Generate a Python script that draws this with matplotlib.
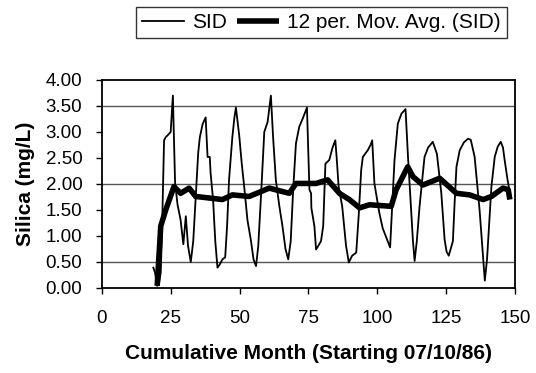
import numpy as np
import matplotlib
matplotlib.use("Agg")
from matplotlib import pyplot as plt

plt.rcParams['font.family'] = ['Liberation Sans', 'DejaVu Sans']

# SID series (month, silica mg/L)
sid_month = [18.7, 19.3, 20.1, 20.8, 21.4, 21.9, 22.6, 23.2, 23.8, 25.0, 25.8, 26.6, 27.5,
             28.6, 29.6, 30.5, 31.3, 32.3,
             33.2, 34.3, 35.0, 35.6, 36.6, 37.7, 38.4, 39.2, 39.5, 40.4, 41.2, 42.0, 42.8,
             43.8, 44.8,
             45.5, 46.2, 47.4, 48.2, 48.7, 49.3, 49.9, 50.8, 51.7, 52.9, 54.1, 55.1, 56.0,
             56.8,
             57.8, 59.0, 60.2, 61.4, 62.2, 63.2, 64.4, 65.6, 66.7, 67.7, 68.6, 69.5, 70.5,
             71.7, 72.9, 74.5,
             75.4, 76.0, 76.1, 77.2, 77.8, 78.5, 79.6, 80.4, 81.2, 82.6, 83.8, 84.8, 85.3,
             86.0, 87.3, 88.7, 89.7, 90.9, 92.4,
             93.3, 94.2, 94.8, 96.6, 97.6, 98.2, 99.0, 100.8, 102.0, 103.3, 104.7,
             105.4, 106.3, 107.5, 108.8, 110.3, 111.2, 112.4, 113.0, 113.6, 114.4, 115.4,
             117.2, 118.5, 120.2, 121.7, 123.3, 124.5, 125.2, 126.0, 127.5,
             128.1, 128.8, 130.0, 131.5, 133.0, 134.0, 135.4, 137.2, 138.3, 139.1, 139.9,
             141.5, 142.7, 143.8, 144.9, 145.7, 146.3, 147.3, 148.2]
sid_val = [0.39, 0.30, 0.04, 0.10, 0.30, 1.20, 2.84, 2.90, 2.93, 3.00, 3.70, 2.02, 1.60,
           1.31, 0.84, 1.38, 0.81, 0.50,
           0.90, 1.95, 2.60, 2.90, 3.15, 3.28, 2.52, 2.52, 2.21, 1.70, 0.90, 0.39, 0.45,
           0.55, 0.59,
           1.20, 2.08, 2.90, 3.30, 3.47, 3.20, 2.93, 2.40, 1.95, 1.30, 0.93, 0.55, 0.42,
           0.80,
           1.76, 3.00, 3.19, 3.70, 2.90, 2.08, 1.60, 1.19, 0.75, 0.55, 0.90, 1.90, 2.78,
           3.10, 3.25, 3.47,
           1.89, 1.82, 1.54, 1.19, 0.74, 0.80, 0.90, 1.19, 2.39, 2.46, 2.70, 2.84, 2.50,
           1.95, 1.57, 0.81, 0.49, 0.62, 0.68,
           1.40, 2.27, 2.52, 2.65, 2.75, 2.84, 2.01, 1.44, 1.15, 0.97, 0.78,
           1.50, 2.46, 3.16, 3.35, 3.44, 2.52, 1.44, 0.90, 0.52, 0.90, 1.57,
           2.52, 2.70, 2.81, 2.58, 1.82, 0.93, 0.70, 0.62, 0.90,
           1.60, 2.33, 2.65, 2.80, 2.87, 2.85, 2.52, 1.50, 0.70, 0.14, 0.55,
           1.95, 2.52, 2.72, 2.81, 2.70, 2.46, 2.10, 1.82]

# 12 per. moving average, also
ma_month = [20.1, 21.4, 23.2, 26.2, 28.6, 31.7, 34.1, 43.8, 47.4, 53.5, 60.8, 68.1, 70.5,
            75.4, 77.8, 82.0, 86.3, 89.9, 93.6, 97.2, 105.1, 106.9, 111.1, 113.0, 116.6,
            122.7, 128.8, 133.6, 138.5, 141.5, 145.7, 147.6, 148.2]
ma_val = [0.04, 1.19, 1.50, 1.95, 1.82, 1.92, 1.76, 1.70, 1.79, 1.76, 1.92, 1.82, 2.01,
          2.01, 2.01, 2.08, 1.82, 1.70, 1.54, 1.60, 1.57, 1.89, 2.33, 2.14, 1.98,
          2.11, 1.82, 1.79, 1.70, 1.76, 1.92, 1.89, 1.70]

x_ticks = [0, 25, 50, 75, 100, 125, 150]
y_ticks = [0.0, 0.5, 1.0, 1.5, 2.0, 2.5, 3.0, 3.5, 4.0]
grid_lines = [0.5, 2.0, 3.5]

fig = plt.figure(figsize=(5.36, 3.73), dpi=100)
ax = fig.add_axes([0.190, 0.228, 0.7705, 0.5576])

for g in grid_lines:
    ax.axhline(g, color='#555555', lw=1.0, zorder=1)

l1, = ax.plot(sid_month, sid_val, color='black', lw=1.3, zorder=3, label='SID',
              solid_joinstyle='round')
l2, = ax.plot(ma_month, ma_val, color='black', lw=4.0, zorder=4,
              solid_capstyle='butt', solid_joinstyle='round', label='12 per. Mov. Avg. (SID)')

ax.set_xlim(0, 150)
ax.set_ylim(0, 4)
ax.set_xticks(x_ticks)
ax.set_yticks(y_ticks)
ax.set_yticklabels(['%.2f' % v for v in y_ticks])
ax.tick_params(axis='both', labelsize=13.5, length=4, width=1, direction='out')
ax.tick_params(axis='y', pad=10)
ax.tick_params(axis='x', pad=12)

for s in ax.spines.values():
    s.set_linestyle((0, (1, 1)))
    s.set_linewidth(1.3)
    s.set_color('black')

ax.set_xlabel('Cumulative Month (Starting 07/10/86)', fontsize=15, fontweight='bold', labelpad=12)
ax.set_ylabel('Silica (mg/L)', fontsize=15, fontweight='bold', labelpad=8)

leg = fig.legend(handles=[l1, l2], loc='center', bbox_to_anchor=(0.600, 0.94), ncol=2,
                 fontsize=15, frameon=True, fancybox=False, edgecolor='black',
                 handlelength=2.0, handletextpad=0.4, columnspacing=0.5,
                 borderpad=0.3, borderaxespad=0)
leg.get_frame().set_linewidth(1.0)

fig.savefig('out.png', dpi=100)
